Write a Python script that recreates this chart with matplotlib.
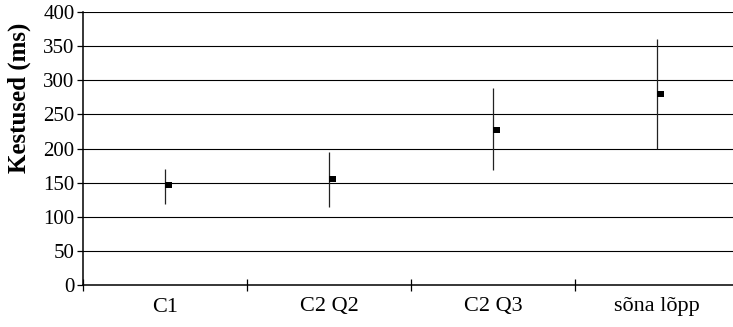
import matplotlib
matplotlib.use("Agg")
import matplotlib.pyplot as plt
from matplotlib.path import Path as MPath

categories = ["C1", "C2 Q2", "C2 Q3", "sõna lõpp"]
highs = [170, 195, 289, 360]
lows = [118, 114, 168, 200]
closes = [146, 155, 227, 280]

yticks = list(range(0, 401, 50))

plt.rcParams["font.family"] = ["Liberation Serif", "DejaVu Serif"]

W, H = 733, 327
fig = plt.figure(figsize=(W / 100, H / 100), dpi=100)
ax = fig.add_axes([83 / W, 42 / H, 656 / W, 273 / H])

x = list(range(len(categories)))

# high-low lines
ax.vlines(x, lows, highs, color="#222222", lw=0.9, zorder=3)

# close marker sits just right of the high-low line (Excel style)
close_marker = MPath([(0, -0.42), (1, -0.42), (1, 0.42), (0, 0.42), (0, -0.42)],
                     [MPath.MOVETO, MPath.LINETO, MPath.LINETO, MPath.LINETO, MPath.CLOSEPOLY])
ax.plot(x, closes, linestyle="none", marker=close_marker, markersize=10,
        color="black", markeredgewidth=0, zorder=4)

ax.set_xlim(-0.5, len(categories) - 0.5)
ax.set_ylim(0, 400)
ax.set_yticks(yticks)
ax.tick_params(axis="y", direction="out", length=4, width=0.9, labelsize=15, pad=2)

ax.set_xticks(x)
ax.set_xticklabels(categories)
ax.tick_params(axis="x", which="major", length=0, labelsize=16, pad=9)
ax.set_xticks([i - 0.5 for i in range(len(categories) + 1)], minor=True)
ax.tick_params(axis="x", which="minor", direction="inout", length=8, width=0.9)

for y in yticks[1:]:
    ax.axhline(y, color="black", lw=0.8, zorder=1)

for side in ("top", "right"):
    ax.spines[side].set_visible(False)
for side in ("left", "bottom"):
    ax.spines[side].set_linewidth(1.1)

ax.set_ylabel("Kestused (ms)", fontsize=18, fontweight="bold")
ax.yaxis.set_label_coords(-0.08, 0.685)

fig.savefig("out.png", dpi=100)
